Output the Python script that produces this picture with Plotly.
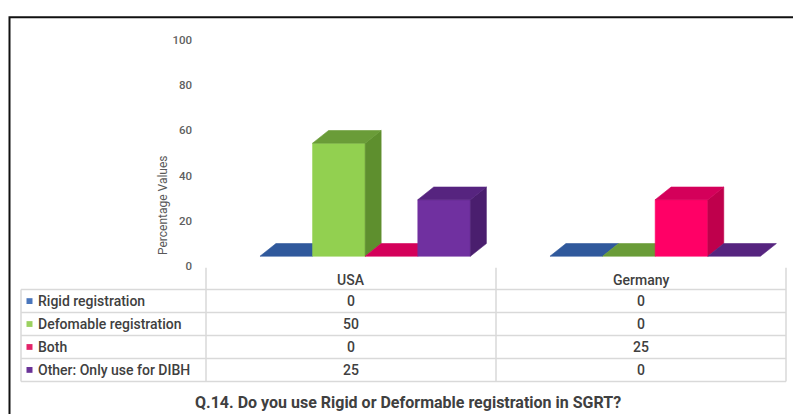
import plotly.graph_objects as go

# ---- data -------------------------------------------------------------
countries = ["USA", "Germany"]
series_names = ["Rigid registration", "Defomable registration", "Both",
                "Other: Only use for DIBH"]
rigid = [0, 0]
deformable = [50, 0]
both = [0, 25]
other = [25, 0]
series_values = [rigid, deformable, both, other]
y_ticks = [0, 20, 40, 60, 80, 100]
title_text = "Q.14. Do you use Rigid or Deformable registration in SGRT?"
y_title = "Percentage Values"

# face colours per series: front, right side, top, legend key
palette = [
    ("#3F6DB3", "#2A4F8A", "#30599C", "#4A76BC"),
    ("#92D050", "#5E8F2E", "#6A9C38", "#9BD160"),
    ("#FF0066", "#BF004C", "#D4005A", "#E3246A"),
    ("#7030A0", "#4A1E6E", "#56247F", "#6A3398"),
]

W, H = 793, 414
FONT = "Roboto, Liberation Sans, sans-serif"
TEXT = "#404040"


def px(x):
    return x / W


def py(y):
    return 1 - y / H


# ---- 3D-look column geometry (data units) ----------------------------
bar_w = 0.1814          # width of one column, in category units
depth_x = 0.055         # oblique depth offset, horizontal
depth_y = 5.6           # oblique depth offset, vertical (value units)
floor_lift = 4.3        # front edge of the floor above the wall's zero

fig = go.Figure()


def face(xs, ys, color):
    fig.add_trace(go.Scatter(
        x=xs + [xs[0]], y=ys + [ys[0]], mode="lines", fill="toself",
        fillcolor=color, line=dict(color=color, width=0.6),
        hoverinfo="skip", showlegend=False))


for ci, _ in enumerate(countries):
    for si, vals in enumerate(series_values):
        v = vals[ci]
        front, side, top, _key = palette[si]
        centre = ci + (si - 1.5) * bar_w
        l, r = centre - bar_w / 2, centre + bar_w / 2
        b, t = floor_lift, floor_lift + v
        if v > 0:
            face([l, r, r, l], [b, b, t, t], front)
            face([r, r + depth_x, r + depth_x, r],
                 [b, b + depth_y, t + depth_y, t], side)
        face([l, r, r + depth_x, l + depth_x],
             [t, t, t + depth_y, t + depth_y], top)

fig.update_layout(
    width=W, height=H, autosize=False,
    margin=dict(l=0, r=0, t=0, b=0),
    paper_bgcolor="white", plot_bgcolor="white",
    font=dict(family=FONT, color=TEXT),
    xaxis=dict(domain=[px(200), 1.0], range=[(200 - 365.2) / 290, (793 - 365.2) / 290],
               visible=False, fixedrange=True),
    yaxis=dict(domain=[py(268), py(34)], range=[0, 100], tickvals=y_ticks,
               showgrid=False, zeroline=False, showline=False, ticks="",
               ticklabelstandoff=7,
               tickfont=dict(size=11.5, color="#5f5f5f", family=FONT, weight=500),
               fixedrange=True),
)

shapes = []
annotations = []

# outer frame
shapes.append(dict(type="rect", xref="paper", yref="paper",
                   x0=px(9.5), x1=px(820), y0=py(440), y1=py(10.5),
                   line=dict(color="#111111", width=2)))

# y axis title
annotations.append(dict(text=y_title, x=px(163), y=py(205), xref="paper", yref="paper",
                        xanchor="center", yanchor="middle",
                        textangle=-90, showarrow=False,
                        font=dict(size=12, color="#595959", family=FONT)))

# ---- data table under the chart --------------------------------------
grid = "#D9D9D9"
tbl_left, lbl_right, tbl_right = 21, 206, 786
col_edges = [lbl_right, 496, tbl_right]
head_top = 270
row_h = 23.75
head_bottom = head_top + 22.5
row_lines = [head_bottom + k * row_h for k in range(len(series_names) + 1)]
tbl_bottom = row_lines[-1]

for xv in col_edges:
    shapes.append(dict(type="line", xref="paper", yref="paper",
                       x0=px(xv), x1=px(xv), y0=py(head_top), y1=py(tbl_bottom),
                       line=dict(color=grid, width=1.5)))
shapes.append(dict(type="line", xref="paper", yref="paper",
                   x0=px(tbl_left), x1=px(tbl_left), y0=py(head_bottom), y1=py(tbl_bottom),
                   line=dict(color=grid, width=1.5)))
for yv in row_lines:
    shapes.append(dict(type="line", xref="paper", yref="paper",
                       x0=px(tbl_left), x1=px(tbl_right), y0=py(yv), y1=py(yv),
                       line=dict(color=grid, width=1.5)))

cell_font = dict(size=14, color=TEXT, family=FONT, weight=500)
col_centres = [(col_edges[k] + col_edges[k + 1]) / 2 for k in range(len(countries))]
for k, name in enumerate(countries):
    annotations.append(dict(text=name, x=px(col_centres[k]), y=py(283),
                            xref="paper", yref="paper", showarrow=False,
                            xanchor="center", yanchor="middle", font=cell_font))

for si, name in enumerate(series_names):
    yc = row_lines[si] + row_h / 2
    shapes.append(dict(type="rect", xref="paper", yref="paper",
                       x0=px(26.5), x1=px(32.5), y0=py(yc + 3), y1=py(yc - 3),
                       fillcolor=palette[si][3], line=dict(width=0)))
    annotations.append(dict(text=name, x=px(36), y=py(yc), xref="paper", yref="paper",
                            xanchor="left", yanchor="middle", showarrow=False,
                            font=cell_font))
    for k in range(len(countries)):
        annotations.append(dict(text=str(series_values[si][k]), x=px(col_centres[k]), y=py(yc),
                                xref="paper", yref="paper", showarrow=False,
                                xanchor="center", yanchor="middle", font=cell_font))

# caption
annotations.append(dict(text="<b>" + title_text + "</b>", x=px(408), y=py(409),
                        xref="paper", yref="paper", showarrow=False,
                        xanchor="center", yanchor="middle",
                        font=dict(size=16, color=TEXT, family=FONT)))

fig.update_layout(shapes=shapes, annotations=annotations)
fig.write_html("out.html")
